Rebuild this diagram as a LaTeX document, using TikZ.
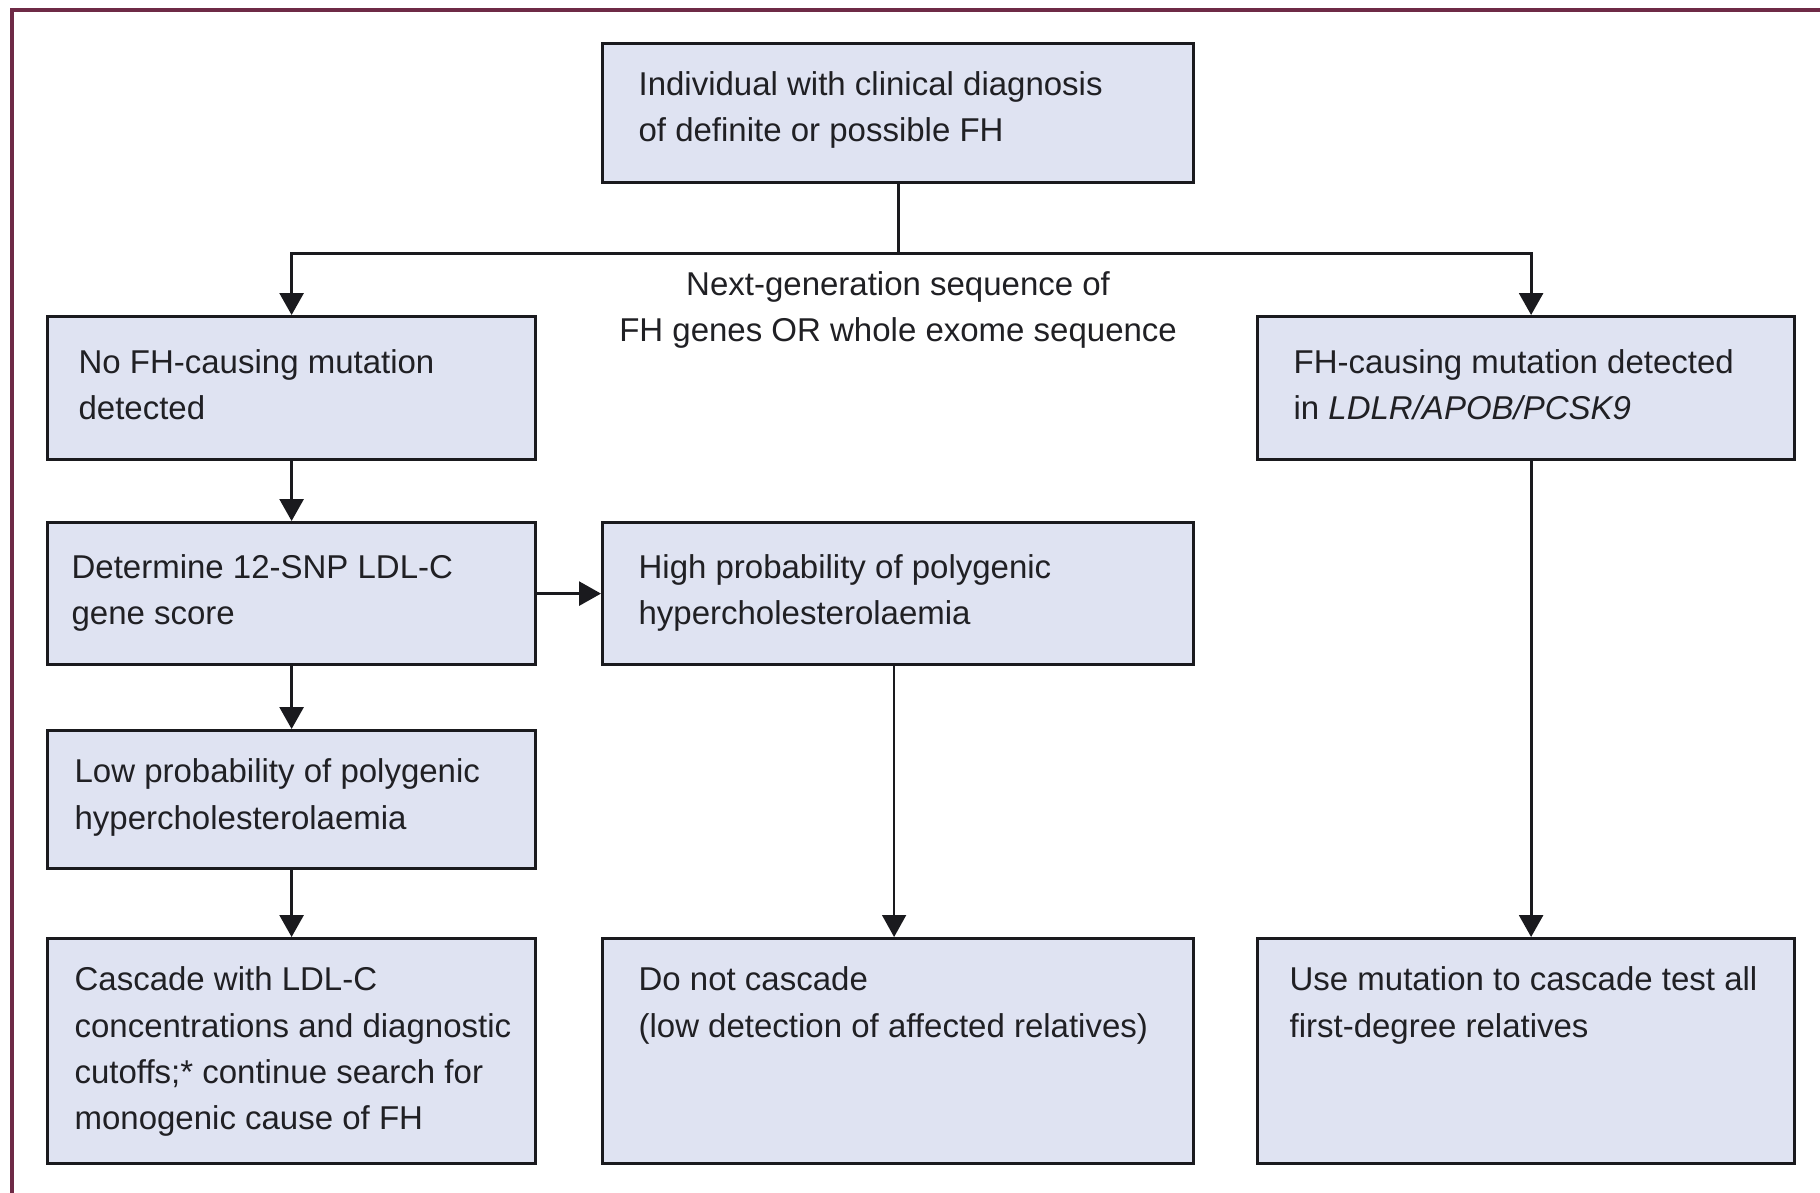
\documentclass[tikz,border=0pt]{standalone}
\usepackage{fontspec}
\setmainfont{Liberation Sans}
\usetikzlibrary{arrows.meta,calc}
\definecolor{boxfill}{RGB}{223,227,242}
\definecolor{boxline}{RGB}{26,26,30}
\definecolor{txtcol}{RGB}{32,32,36}
\definecolor{framecol}{RGB}{110,42,70}
\tikzset{
  fhbox/.style={draw=boxline, line width=1.6pt, fill=boxfill, anchor=north west,
    inner xsep=0pt, inner ysep=0pt, text=txtcol, font=\fhfont},
  conn/.style={draw=boxline, line width=1.4pt},
  thinconn/.style={draw=boxline, line width=0.8pt},
  tip/.style={-{Triangle[width=12pt,length=11pt]}},
}
\newcommand{\fhfont}{\fontsize{16.5pt}{23.2pt}\selectfont}
% #1 width, #2 height, #3 left pad, #4 first-line height, #5 text
\newcommand{\fhtext}[5]{\parbox[c][#2][t]{#1}{\raggedright\leftskip=#3\relax\rule{0pt}{#4}#5}}
\begin{document}
\begin{tikzpicture}[x=0.5pt,y=-0.5pt]
\useasboundingbox[fill=white] (0,0) rectangle (1820,1193);
% frame
\draw[framecol, line width=1.6pt] (12,1193) -- (12,10) -- (1820,10);

% boxes
\node[fhbox] (top) at (601,42) {\fhtext{295.5pt}{69.5pt}{18pt}{26pt}{Individual with clinical diagnosis\\of definite or possible FH}};
\node[fhbox] (b1) at (46,315) {\fhtext{244pt}{71.5pt}{15.5pt}{28.3pt}{No FH-causing mutation\\detected}};
\node[fhbox] (b2) at (46,521) {\fhtext{244pt}{71pt}{12pt}{27.7pt}{Determine 12-SNP LDL-C\\gene score}};
\node[fhbox] (b3) at (46,729) {\fhtext{244pt}{69pt}{13.5pt}{26pt}{Low probability of polygenic\\hypercholesterolaemia}};
\node[fhbox] (b4) at (46,937) {\fhtext{244pt}{112.5pt}{13.5pt}{26pt}{Cascade with LDL-C\\concentrations and diagnostic\\cutoffs;* continue search for\\monogenic cause of FH}};
\node[fhbox] (m1) at (601,521) {\fhtext{295.5pt}{71pt}{18pt}{27.7pt}{High probability of polygenic\\hypercholesterolaemia}};
\node[fhbox] (m2) at (601,937) {\fhtext{295.5pt}{112.5pt}{18pt}{26pt}{Do not cascade\\(low detection of affected relatives)}};
\node[fhbox] (r1) at (1256,315) {\fhtext{268.5pt}{71.5pt}{18pt}{28.3pt}{FH-causing mutation detected\\in \textit{LDLR/APOB/PCSK9}}};
\node[fhbox] (r2) at (1256,937) {\fhtext{268.5pt}{112.5pt}{16pt}{26pt}{Use mutation to cascade test all\\first-degree relatives}};

% connectors
\coordinate (hub) at ([yshift=-34.5pt]top.south);
\draw[conn] (top.south) -- (hub);
\draw[conn,tip] (hub) -| (b1.north);
\draw[conn,tip] (hub) -| ([xshift=2.5pt]r1.north);
\node[font=\fhfont, text=txtcol, align=center, anchor=north, inner sep=0pt] (lbl) at ([yshift=-9pt]hub) {Next-generation sequence of\\FH genes OR whole exome sequence};

\draw[conn,tip] (b1.south) -- (b2.north);
\draw[conn,tip] (b2.south) -- (b3.north);
\draw[conn,tip] (b3.south) -- (b4.north);
\draw[conn,tip] (b2.east) -- (m1.west);
\draw[thinconn,tip] ([xshift=-2pt]m1.south) -- ([xshift=-2pt]m2.north);
\draw[conn,tip] ([xshift=2.5pt]r1.south) -- ([xshift=2.5pt]r2.north);
\end{tikzpicture}
\end{document}
